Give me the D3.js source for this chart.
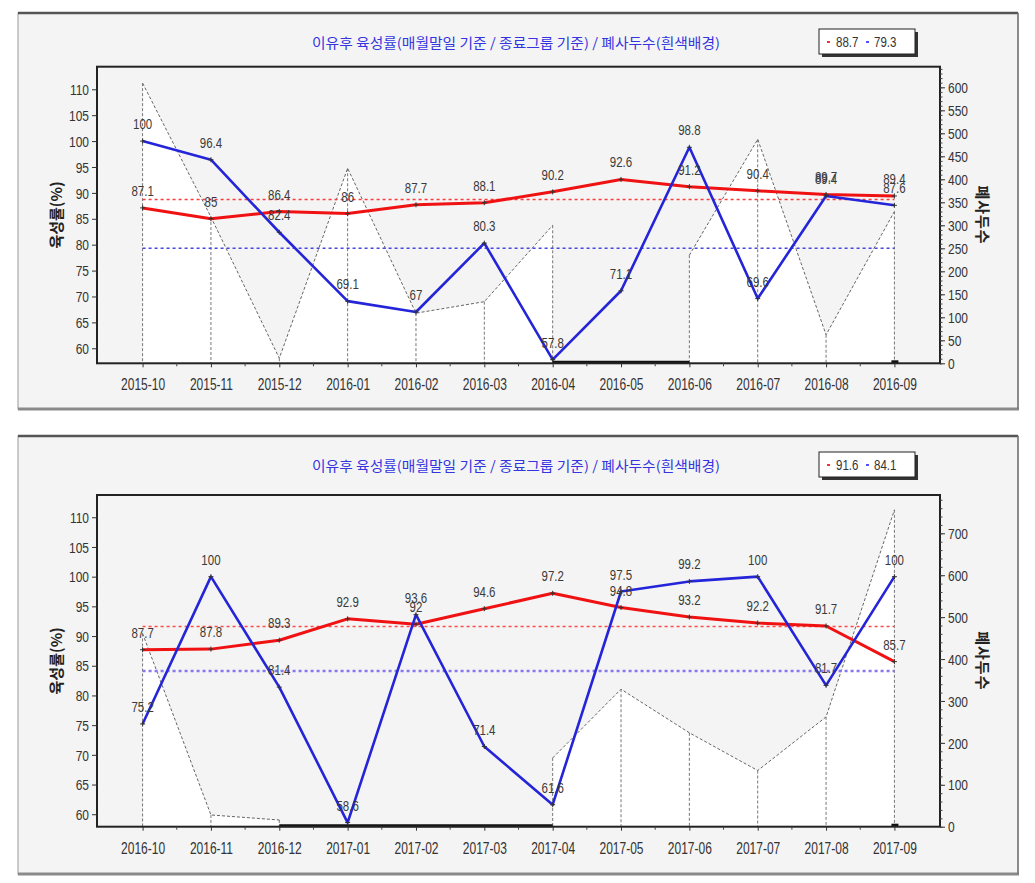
<!DOCTYPE html>
<html><head><meta charset="utf-8">
<script src="https://cdn.jsdelivr.net/npm/d3@7"></script>
<style>body{margin:0;background:#fff}</style>
</head><body>
<svg id="c" width="1035" height="883"></svg>
<script>
// ---------- data ----------
const chartTitle = "이유후 육성률(매월말일 기준 / 종료그룹 기준) / 폐사두수(흰색배경)";
const leftAxisTitle = "육성률(%)";
const rightAxisTitle = "폐사두수";

const monthsTop = ["2015-10","2015-11","2015-12","2016-01","2016-02","2016-03","2016-04","2016-05","2016-06","2016-07","2016-08","2016-09"];
const rateMonthEndTop = [87.1, 85, 86.4, 86, 87.7, 88.1, 90.2, 92.6, 91.2, 90.4, 89.7, 89.4];
const rateClosedGroupTop = [100, 96.4, 82.4, 69.1, 67, 80.3, 57.8, 71.1, 98.8, 69.6, 89.4, 87.6];
const deathsTop = [609, 318, 11, 424, 109, 134, 300, null, 235, 487, 62, 330];
const averagesTop = [88.7, 79.3];
const leftTicksTop = [60, 65, 70, 75, 80, 85, 90, 95, 100, 105, 110];
const rightTicksTop = [0, 50, 100, 150, 200, 250, 300, 350, 400, 450, 500, 550, 600];

const monthsBottom = ["2016-10","2016-11","2016-12","2017-01","2017-02","2017-03","2017-04","2017-05","2017-06","2017-07","2017-08","2017-09"];
const rateMonthEndBottom = [87.7, 87.8, 89.3, 92.9, 92, 94.6, 97.2, 94.8, 93.2, 92.2, 91.7, 85.7];
const rateClosedGroupBottom = [75.2, 100, 81.4, 58.6, 93.6, 71.4, 61.6, 97.5, 99.2, 100, 81.7, 100];
const deathsBottom = [461, 28, 16, null, null, null, 164, 328, 224, 134, 262, 756];
const averagesBottom = [91.6, 84.1];
const leftTicksBottom = [60, 65, 70, 75, 80, 85, 90, 95, 100, 105, 110];
const rightTicksBottom = [0, 100, 200, 300, 400, 500, 600, 700];

// ---------- drawing ----------
const svg = d3.select("#c");
const NUMFONT = "'Liberation Sans', Arial, sans-serif";
const KRFONT = "'Noto Sans CJK KR', 'Noto Sans', sans-serif";

function stretchedText(g, x, y, str, o) {
  return g.append("text")
    .attr("transform", `translate(${x},${y}) scale(1,${o.sy || 1.25})`)
    .attr("text-anchor", o.anchor || "middle")
    .attr("font-family", NUMFONT)
    .attr("font-size", o.size || 12)
    .attr("fill", o.fill || "#333")
    .text(str);
}

function drawChart(cfg) {
  const g = svg.append("g");
  const L = 97, R = 940, T = cfg.plotTop, B = cfg.plotBottom;

  // panel
  g.append("rect").attr("x", 18).attr("y", cfg.panelTop).attr("width", 1000)
    .attr("height", cfg.panelBottom - cfg.panelTop).attr("fill", "#f4f4f4")
    .attr("stroke", "#999").attr("stroke-width", 1);
  g.append("line").attr("x1", 18).attr("x2", 1018).attr("y1", cfg.panelTop).attr("y2", cfg.panelTop)
    .attr("stroke", "#555").attr("stroke-width", 2.5);
  g.append("line").attr("x1", 18).attr("x2", 1019).attr("y1", cfg.panelBottom).attr("y2", cfg.panelBottom)
    .attr("stroke", "#8a8a8a").attr("stroke-width", 3);
  g.append("line").attr("x1", 1018).attr("x2", 1018).attr("y1", cfg.panelTop).attr("y2", cfg.panelBottom)
    .attr("stroke", "#777").attr("stroke-width", 1.5);

  // title
  g.append("text").attr("x", 516).attr("y", cfg.panelTop + 35)
    .attr("text-anchor", "middle").attr("font-family", KRFONT).attr("font-size", 13.5)
    .attr("fill", "#3434e0").attr("textLength", 408).attr("lengthAdjust", "spacingAndGlyphs")
    .text(chartTitle);

  // legend box (averages)
  const lx = 819, ly = cfg.panelTop + 16;
  g.append("rect").attr("x", lx + 3).attr("y", ly + 3).attr("width", 96).attr("height", 25).attr("fill", "#333");
  g.append("rect").attr("x", lx).attr("y", ly).attr("width", 96).attr("height", 25)
    .attr("fill", "#fff").attr("stroke", "#222").attr("stroke-width", 1);
  g.append("line").attr("x1", lx + 8).attr("x2", lx + 11).attr("y1", ly + 13).attr("y2", ly + 13)
    .attr("stroke", "#ff3030").attr("stroke-width", 2);
  stretchedText(g, lx + 17, ly + 18, cfg.averages[0], {anchor: "start", size: 11.5, sy: 1.2});
  g.append("line").attr("x1", lx + 47).attr("x2", lx + 50).attr("y1", ly + 13).attr("y2", ly + 13)
    .attr("stroke", "#5050ff").attr("stroke-width", 2);
  stretchedText(g, lx + 55, ly + 18, cfg.averages[1], {anchor: "start", size: 11.5, sy: 1.2});

  // scales
  const x = d3.scalePoint().domain(cfg.months).range([L, R]).padding(0.667);
  const y = d3.scaleLinear().domain(cfg.yDomain).range([B, T]);
  const y2 = d3.scaleLinear().domain(cfg.y2Domain).range([B, T]);
  const step = x.step();

  // plot background
  g.append("rect").attr("x", L).attr("y", T).attr("width", R - L).attr("height", B - T).attr("fill", "#f4f4f4");

  // deaths: white area + dashed line
  const xi = (d, i) => x(cfg.months[i]);
  const area = d3.area().defined(d => d != null).x(xi).y0(B).y1(d => y2(d));
  g.append("path").datum(cfg.deaths).attr("d", area).attr("fill", "#ffffff");
  const dline = d3.line().defined(d => d != null).x(xi).y(d => y2(d));
  g.append("path").datum(cfg.deaths).attr("d", dline).attr("fill", "none")
    .attr("stroke", "#555").attr("stroke-width", 0.9).attr("stroke-dasharray", "3,2");
  cfg.deaths.forEach((d, i) => {
    if (d == null) return;
    g.append("line").attr("x1", xi(d, i)).attr("x2", xi(d, i)).attr("y1", y2(d)).attr("y2", B)
      .attr("stroke", "#666").attr("stroke-width", 0.9).attr("stroke-dasharray", "3,2");
  });
  // empty spans -> thick baseline
  let i = 0;
  while (i < cfg.deaths.length) {
    if (cfg.deaths[i] == null) {
      let j = i;
      while (j < cfg.deaths.length && cfg.deaths[j] == null) j++;
      const a = Math.max(0, i - 1), b = Math.min(cfg.deaths.length - 1, j);
      g.append("line").attr("x1", x(cfg.months[a])).attr("x2", x(cfg.months[b]))
        .attr("y1", B - 1).attr("y2", B - 1).attr("stroke", "#111").attr("stroke-width", 3);
      i = j;
    } else i++;
  }
  const lastX = x(cfg.months[cfg.months.length - 1]);
  g.append("rect").attr("x", lastX - 3).attr("y", B - 3).attr("width", 7).attr("height", 3).attr("fill", "#111");

  // average lines
  const x0 = x(cfg.months[0]);
  g.append("line").attr("x1", x0).attr("x2", lastX).attr("y1", y(cfg.averages[0])).attr("y2", y(cfg.averages[0]))
    .attr("stroke", cfg.avgRedColor).attr("stroke-width", 1.5).attr("stroke-dasharray", "3,3");
  g.append("line").attr("x1", x0).attr("x2", lastX).attr("y1", y(cfg.averages[1])).attr("y2", y(cfg.averages[1]))
    .attr("stroke", cfg.avgBlueColor).attr("stroke-width", cfg.avgBlueWidth).attr("stroke-dasharray", "3,3");

  // rate lines
  const rline = d3.line().x(xi).y(d => y(d));
  g.append("path").datum(cfg.red).attr("d", rline).attr("fill", "none")
    .attr("stroke", "#f01212").attr("stroke-width", 3).attr("stroke-linejoin", "round");
  g.append("path").datum(cfg.blue).attr("d", rline).attr("fill", "none")
    .attr("stroke", "#2424d8").attr("stroke-width", 2.6).attr("stroke-linejoin", "round");

  // markers
  [cfg.red, cfg.blue].forEach(s => s.forEach((v, k) => {
    const px = xi(v, k), py = y(v);
    g.append("path").attr("d", `M${px - 2.5},${py}H${px + 2.5}M${px},${py - 2.5}V${py + 2.5}`)
      .attr("stroke", "#333").attr("stroke-width", 1);
  }));

  // value labels
  [cfg.red, cfg.blue].forEach(s => s.forEach((v, k) => {
    stretchedText(g, xi(v, k), y(v) - 12, v, {size: 11.5, sy: 1.3, fill: "#3a3a3a"});
  }));

  // plot border
  g.append("rect").attr("x", L).attr("y", T).attr("width", R - L).attr("height", B - T)
    .attr("fill", "none").attr("stroke", "#222").attr("stroke-width", 2);

  // left axis
  const ga = g.append("g").attr("transform", `translate(${L},0)`)
    .call(d3.axisLeft(y).tickValues(cfg.leftTicks).tickSize(5).tickPadding(3));
  ga.select(".domain").remove();
  ga.selectAll("line").attr("stroke", "#333");
  ga.selectAll("text").attr("font-family", NUMFONT).attr("font-size", 12).attr("fill", "#333")
    .attr("y", 0).attr("dy", null).attr("transform", "translate(0,5.2) scale(1,1.2)");

  // right axis
  const gr = g.append("g").attr("transform", `translate(${R},0)`)
    .call(d3.axisRight(y2).tickValues(cfg.rightTicks).tickSize(5).tickPadding(3));
  gr.select(".domain").remove();
  gr.selectAll("line").attr("stroke", "#333");
  gr.selectAll("text").attr("font-family", NUMFONT).attr("font-size", 12).attr("fill", "#333")
    .attr("y", 0).attr("dy", null).attr("transform", "translate(0,5.2) scale(1,1.2)");
  const minor = d3.range(0, cfg.y2Domain[1], cfg.rightMinor);
  const gm = g.append("g").attr("transform", `translate(${R},0)`)
    .call(d3.axisRight(y2).tickValues(minor).tickSize(2.5).tickFormat(""));
  gm.select(".domain").remove();
  gm.selectAll("line").attr("stroke", "#444");

  // bottom axis
  const gb = g.append("g").attr("transform", `translate(0,${B})`)
    .call(d3.axisBottom(x).tickSize(4).tickPadding(3));
  gb.select(".domain").remove();
  gb.selectAll("line").attr("stroke", "#333");
  gb.selectAll("text").attr("font-family", NUMFONT).attr("font-size", 12).attr("fill", "#333")
    .attr("y", 0).attr("dy", null).attr("transform", "translate(0,27) scale(1,1.3)");
  cfg.months.slice(0, -1).forEach(m => {
    const mx = x(m) + step / 2;
    g.append("line").attr("x1", mx).attr("x2", mx).attr("y1", B).attr("y2", B + 3).attr("stroke", "#444");
  });

  // axis titles
  const cy = (T + B) / 2;
  g.append("text").attr("transform", `translate(62,${cy}) rotate(-90)`)
    .attr("text-anchor", "middle").attr("font-family", KRFONT).attr("font-size", 15)
    .attr("font-weight", "bold").attr("fill", "#222").text(leftAxisTitle);
  g.append("text").attr("transform", `translate(977,${cy}) rotate(90)`)
    .attr("text-anchor", "middle").attr("font-family", KRFONT).attr("font-size", 15)
    .attr("font-weight", "bold").attr("letter-spacing", 1).attr("fill", "#222").text(rightAxisTitle);
}

drawChart({
  panelTop: 13, panelBottom: 409, plotTop: 66.7, plotBottom: 363.3,
  months: monthsTop, red: rateMonthEndTop, blue: rateClosedGroupTop, deaths: deathsTop,
  averages: averagesTop, leftTicks: leftTicksTop, rightTicks: rightTicksTop, rightMinor: 10,
  yDomain: [57.1, 114.36], y2Domain: [0, 644.8],
  avgRedColor: "#ff3a3a", avgBlueColor: "#4646e0", avgBlueWidth: 1.5
});
drawChart({
  panelTop: 436, panelBottom: 874, plotTop: 495, plotBottom: 826.7,
  months: monthsBottom, red: rateMonthEndBottom, blue: rateClosedGroupBottom, deaths: deathsBottom,
  averages: averagesBottom, leftTicks: leftTicksBottom, rightTicks: rightTicksBottom, rightMinor: 20,
  yDomain: [57.9, 113.75], y2Domain: [0, 791.4],
  avgRedColor: "#ff4a4a", avgBlueColor: "#8878f0", avgBlueWidth: 2.5
});
</script>
</body></html>
